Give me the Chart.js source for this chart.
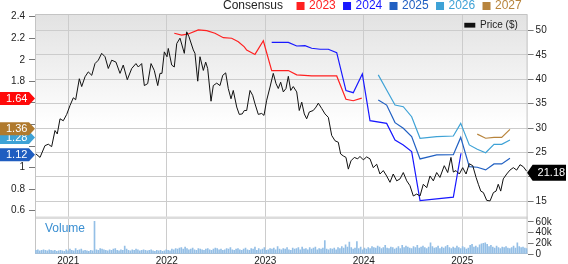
<!DOCTYPE html>
<html><head><meta charset="utf-8">
<script src="https://cdn.jsdelivr.net/npm/chart.js@4/dist/chart.umd.min.js"></script>
<style>html,body{margin:0;padding:0;background:#fff;}#wrap{width:568px;height:264px;position:relative;}</style>
</head><body><div id="wrap"><canvas id="c"></canvas></div>
<script>
// ---- data ----
const priceYears = [2020.672,2020.713,2020.763,2020.797,2020.831,2020.865,2020.888,2020.916,2020.949,2020.984,
2021.017,2021.051,2021.075,2021.112,2021.136,2021.170,2021.203,2021.238,2021.271,2021.305,
2021.339,2021.373,2021.406,2021.441,2021.484,2021.525,2021.558,2021.599,2021.644,2021.687,
2021.711,2021.745,2021.772,2021.806,2021.840,2021.873,2021.908,2021.931,2021.951,2021.975,
2022.002,2022.015,2022.050,2022.076,2022.101,2022.134,2022.178,2022.202,2022.225,2022.269,
2022.286,2022.314,2022.337,2022.371,2022.395,2022.415,2022.449,2022.472,2022.507,2022.540,
2022.568,2022.598,2022.624,2022.652,2022.675,2022.710,2022.736,2022.766,2022.787,2022.811,
2022.845,2022.872,2022.895,2022.929,2022.963,2022.987,2023.014,2023.048,2023.081,2023.109,
2023.132,2023.156,2023.183,2023.210,2023.234,2023.258,2023.284,2023.319,2023.345,2023.370,
2023.396,2023.420,2023.447,2023.487,2023.515,2023.538,2023.573,2023.606,2023.640,2023.674,
2023.708,2023.741,2023.765,2023.792,2023.819,2023.843,2023.870,2023.904,2023.938,2023.961,
2023.995,2024.029,2024.063,2024.096,2024.131,2024.164,2024.198,2024.232,2024.266,2024.299,
2024.334,2024.368,2024.401,2024.436,2024.469,2024.503,2024.537,2024.571,2024.604,2024.639,
2024.672,2024.706,2024.740,2024.773,2024.817,2024.852,2024.885,2024.909,2024.936,2024.970,
2025.004,2025.038,2025.071,2025.106,2025.140,2025.163,2025.188,2025.214,2025.248,2025.282,
2025.316,2025.343,2025.365,2025.390,2025.416,2025.451,2025.484,2025.518,2025.552,2025.586,
2025.619,2025.653];
const priceValues = [24.7,24.0,26.4,26.7,26.2,29.5,28.8,31.9,31.5,32.8,
34.6,36.2,35.8,40.1,38.5,40.5,41.5,40.8,43.2,43.9,
45.3,44.6,42.2,43.9,43.5,41.2,42.9,39.9,42.2,43.2,
42.5,43.2,38.7,39.1,43.2,41.8,38.7,41.2,41.2,45.6,
44.6,46.3,42.9,42.5,47.3,48.4,45.3,49.7,48.7,46.0,
45.3,39.6,44.6,41.8,43.5,42.2,35.5,38.7,39.2,38.7,
40.8,41.3,38.1,36.0,37.7,34.3,32.8,32.9,33.6,33.6,
37.7,36.7,35.0,32.8,33.0,32.6,35.7,38.4,41.2,39.1,
38.1,39.4,37.4,38.1,40.6,37.7,38.5,37.4,33.6,35.3,
32.9,31.9,33.3,33.6,34.3,35.1,34.0,32.9,32.2,28.5,
27.4,27.1,24.7,24.3,24.0,21.6,23.3,24.0,23.7,24.2,
23.5,24.1,23.7,21.9,22.6,20.6,21.3,20.2,18.9,20.6,
19.2,19.6,20.9,19.2,18.2,16.1,16.5,16.1,18.5,17.8,
20.2,19.2,20.9,19.9,22.3,20.9,24.0,21.0,21.3,20.6,
21.9,20.6,22.7,22.3,19.9,18.5,17.1,16.8,15.2,15.1,
16.8,17.1,18.5,17.1,19.6,20.6,21.4,21.9,21.4,22.5,
22.1,21.18];

const cons2023Years  = [2022.076,2022.151,2022.218,2022.320,2022.405,2022.489,2022.574,2022.659,2022.726,2022.787,2022.811,2022.895,2022.980,2023.065,2023.234,2023.319,2023.471,2023.725,2023.819,2023.893,2023.979];
const cons2023Values = [2.246,2.23,2.24,2.277,2.27,2.246,2.205,2.20,2.168,2.12,2.09,2.05,2.177,1.90,1.90,1.86,1.85,1.85,1.634,1.62,1.645];
const cons2024Years  = [2023.065,2023.234,2023.319,2023.403,2023.471,2023.556,2023.640,2023.725,2023.819,2023.893,2023.985,2024.063,2024.232,2024.317,2024.401,2024.486,2024.571,2024.909,2024.987];
const cons2024Values = [2.162,2.162,2.128,2.131,2.107,2.098,2.098,2.066,1.714,1.695,1.868,1.435,1.41,1.256,1.21,1.148,0.693,0.725,1.133];
const cons2025Years  = [2024.147,2024.232,2024.317,2024.401,2024.486,2024.571,2024.740,2024.909,2024.984,2025.071,2025.152,2025.237,2025.322,2025.400,2025.484];
const cons2025Values = [1.627,1.58,1.417,1.365,1.287,1.08,1.117,1.12,1.28,1.008,1.003,0.978,1.034,1.034,1.086];
const cons2026Years  = [2024.147,2024.232,2024.317,2024.401,2024.486,2024.571,2024.740,2024.909,2024.984,2025.071,2025.152,2025.237,2025.322,2025.400,2025.484];
const cons2026Values = [1.86,1.72,1.58,1.565,1.472,1.272,1.287,1.293,1.41,1.21,1.17,1.138,1.216,1.216,1.256];
const cons2027Years  = [2025.152,2025.237,2025.322,2025.400,2025.484];
const cons2027Values = [1.31,1.272,1.28,1.28,1.355];

const volumeStart = 2020.672;      // first weekly bar
const volumeStep = 1 / 52.18;      // one week in years
const volumeValues = [ // thousands of shares
7,8,6,7,8,7,6,8,7,6,7,5,6,
7,6,5,8,6,9,7,6,10,7,8,9,6,
7,6,5,7,6,61,8,7,10,9,8,7,6,
8,7,9,10,7,6,8,7,15,9,7,6,8,
7,9,8,6,7,8,7,6,7,8,6,5,7,
6,7,5,6,8,7,6,9,8,10,9,11,12,
9,13,10,8,9,11,8,7,10,9,8,7,9,
10,8,7,9,11,10,8,9,7,8,10,9,12,
8,7,9,10,8,7,9,11,8,7,10,9,13,
7,10,8,9,12,7,8,10,9,11,8,14,9,
8,10,9,12,8,7,11,9,10,12,8,13,9,
10,8,12,9,11,13,8,10,9,11,25,9,8,
10,9,11,8,12,10,14,11,17,13,22,12,9,
11,23,10,13,8,11,9,12,10,14,12,11,15,
13,10,12,16,11,10,13,12,9,11,14,10,16,
12,15,13,11,10,14,12,16,11,13,15,12,10,
13,21,14,11,12,15,10,13,11,14,16,12,10,
13,11,15,12,10,14,12,9,11,16,18,13,15,
12,17,19,20,21,18,14,16,13,11,15,12,10,
13,12,14,11,10,12,15,11,21,14,12,13,11,
10];

const yearTicks = [2021, 2022, 2023, 2024, 2025];
const epsTicks = [0.6, 0.8, 1, 1.2, 1.4, 1.6, 1.8, 2, 2.2, 2.4];
const priceTicks = [15, 20, 25, 30, 35, 40, 45, 50];
const volumeTicks = [0, 20, 40, 60];
const consensusNames = ['2023', '2024', '2025', '2026', '2027'];
const consensusColors = ['#ff2020', '#1818ff', '#2160c2', '#3ea2d6', '#b8843c'];
const tagValues = [1.64, 1.28, 1.36, 1.12];          // drawn in this order
const tagColors = ['#ff0a0a', '#3ea2d6', '#b07a2e', '#1f5dc0'];
const lastPrice = 21.18;

// ---- chart ----
const FONT = "'Liberation Sans', Arial, sans-serif";
Chart.defaults.font.family = FONT;
Chart.defaults.color = '#222';

const zip = (xs, ys) => xs.map((x, i) => ({x: x, y: ys[i]}));
const consYears = [cons2023Years, cons2024Years, cons2025Years, cons2026Years, cons2027Years];
const consVals = [cons2023Values, cons2024Values, cons2025Values, cons2026Values, cons2027Values];

const datasets = [];
datasets.push({type:'line', label:'Price ($)', data: zip(priceYears, priceValues), yAxisID:'yP',
  borderColor:'#111', borderWidth:1, pointRadius:0, tension:0, order:1});
consensusNames.forEach((n, i) => datasets.push({type:'line', label:n, data: zip(consYears[i], consVals[i]), yAxisID:'yL',
  borderColor: consensusColors[i], borderWidth:1.2, pointRadius:0, tension:0, order:2}));
datasets.push({type:'bar', label:'Volume', data: volumeValues.map((v, i) => ({x: volumeStart + i * volumeStep, y: v})),
  yAxisID:'yV', backgroundColor:'#94bfe6', barThickness:1, order:3});

const near = (v, arr, tol) => arr.some(t => Math.abs(t - v) < tol);

const decor = {
  id: 'decor',
  beforeDraw(chart) {
    const {ctx, chartArea: a, scales} = chart;
    const yP = scales.yP;
    ctx.save();
    const g = ctx.createLinearGradient(0, a.top, 0, yP.bottom);
    g.addColorStop(0, '#e2e2e2'); g.addColorStop(0.55, '#ffffff'); g.addColorStop(1, '#ffffff');
    ctx.fillStyle = g;
    ctx.fillRect(a.left, a.top, a.right - a.left, yP.bottom - a.top);
    ctx.restore();
  },
  beforeDatasetsDraw(chart) {
    const {ctx, chartArea: a, scales} = chart;
    const yP = scales.yP, yV = scales.yV;
    ctx.save();
    ctx.fillStyle = '#dcdcdc';
    ctx.fillRect(a.left, yP.bottom - 0.5, a.right - a.left, 2.5);
    ctx.strokeStyle = '#c4c4c4'; ctx.lineWidth = 1;
    ctx.beginPath();
    ctx.moveTo(a.left + 0.5, a.bottom); ctx.lineTo(a.left + 0.5, a.top + 0.5);
    ctx.lineTo(a.right - 0.5, a.top + 0.5); ctx.lineTo(a.right - 0.5, a.bottom);
    ctx.moveTo(a.left, a.bottom - 0.5); ctx.lineTo(a.right, a.bottom - 0.5);
    ctx.stroke();
    ctx.font = '12px ' + FONT; ctx.fillStyle = '#3a8fd2'; ctx.textBaseline = 'middle'; ctx.textAlign = 'left';
    ctx.fillText('Volume', a.left + 10, yV.top + 12);
    ctx.restore();
  },
  afterDraw(chart) {
    const {ctx, chartArea: a, scales} = chart;
    const yL = scales.yL, yP = scales.yP;
    ctx.save();
    // top legend
    ctx.textBaseline = 'middle'; ctx.textAlign = 'left';
    ctx.font = '12px ' + FONT;
    let x = 223; const ly = 6;
    ctx.fillStyle = '#222'; ctx.fillText('Consensus', x, ly);
    x += ctx.measureText('Consensus').width + 13.5;
    consensusNames.forEach((n, i) => {
      ctx.fillStyle = consensusColors[i];
      ctx.fillRect(x, ly - 4, 8, 8);
      ctx.fillText(n, x + 12.5, ly);
      x += 12.5 + ctx.measureText(n).width + 7.3;
    });
    // price legend inside plot
    ctx.fillStyle = '#111';
    ctx.fillRect(a.right - 63.3, 22.8, 11, 4.8);
    ctx.font = '10px ' + FONT; ctx.fillStyle = '#222';
    ctx.fillText('Price ($)', a.right - 47.6, 25.5);
    // left tags
    ctx.font = '11px ' + FONT;
    tagValues.forEach((v, i) => {
      const y = yL.getPixelForValue(v);
      ctx.fillStyle = tagColors[i];
      ctx.beginPath();
      ctx.moveTo(0, y - 6.5); ctx.lineTo(29, y - 6.5); ctx.lineTo(35, y); ctx.lineTo(29, y + 6.5); ctx.lineTo(0, y + 6.5);
      ctx.closePath(); ctx.fill();
      ctx.fillStyle = '#fff';
      ctx.fillText(v.toFixed(2), 6, y + 0.5);
    });
    // right price tag
    const py = yP.getPixelForValue(lastPrice) + 1.5;
    ctx.fillStyle = '#000';
    ctx.beginPath();
    ctx.moveTo(a.right - 0.5, py); ctx.lineTo(a.right + 5, py - 8); ctx.lineTo(566, py - 8);
    ctx.lineTo(566, py + 8); ctx.lineTo(a.right + 5, py + 8); ctx.closePath(); ctx.fill();
    ctx.fillStyle = '#fff';
    ctx.fillText(lastPrice.toFixed(2), a.right + 10, py + 0.5);
    ctx.restore();
  }
};

new Chart(document.getElementById('c'), {
  data: {datasets},
  plugins: [decor],
  options: {
    responsive: true, maintainAspectRatio: false, animation: false,
    layout: {padding: {top: 14, left: 0, right: 0, bottom: 0}},
    plugins: {legend: {display: false}, tooltip: {enabled: false}},
    scales: {
      x: {type:'linear', position:'bottom', min:2020.662, max:2025.663, offset:false,
        afterBuildTicks: s => { s.ticks = yearTicks.map(v => ({value: v})); },
        afterFit: s => { s.height = 10; },
        grid: {color:'#cccccc', drawTicks:false, lineWidth:1, offset:false},
        border: {display:false},
        ticks: {font:{size:10}, color:'#222', padding:1, maxRotation:0, autoSkip:false, callback: v => String(v)}},
      yL: {type:'linear', position:'left', min:0.198, max:2.425,
        afterBuildTicks: s => { s.ticks = epsTicks.map(v => ({value: v})); },
        afterFit: s => { s.width = 35; },
        grid: {drawOnChartArea:false, drawTicks:true, tickLength:6, tickColor:'#777', color:'#777'},
        border: {display:false},
        ticks: {font:{size:10}, color:'#222', padding:4, autoSkip:false,
          callback: v => near(v, tagValues, 0.09) ? '' : String(+v.toFixed(1))}},
      yP: {type:'linear', position:'right', stack:'right', stackWeight:203, min:11.8, max:53.35,
        afterBuildTicks: s => { s.ticks = priceTicks.map(v => ({value: v})); },
        afterFit: s => { s.width = 40.4; },
        grid: {color:'#cccccc', drawTicks:true, tickLength:6, tickColor:'#777'},
        border: {display:false},
        ticks: {font:{size:10}, color:'#222', padding:2, autoSkip:false,
          callback: v => Math.abs(v - lastPrice) < 2.5 ? '' : String(v)}},
      yV: {type:'linear', position:'right', stack:'right', stackWeight:37, min:0, max:69,
        afterBuildTicks: s => { s.ticks = volumeTicks.map(v => ({value: v})); },
        afterFit: s => { s.width = 40.4; },
        grid: {drawOnChartArea:false, drawTicks:true, tickLength:6, tickColor:'#777', color:'#777'},
        border: {display:false},
        ticks: {font:{size:10}, color:'#222', padding:2, autoSkip:false, callback: v => v === 0 ? '0' : v + 'k'}}
    }
  }
});
</script></body></html>
